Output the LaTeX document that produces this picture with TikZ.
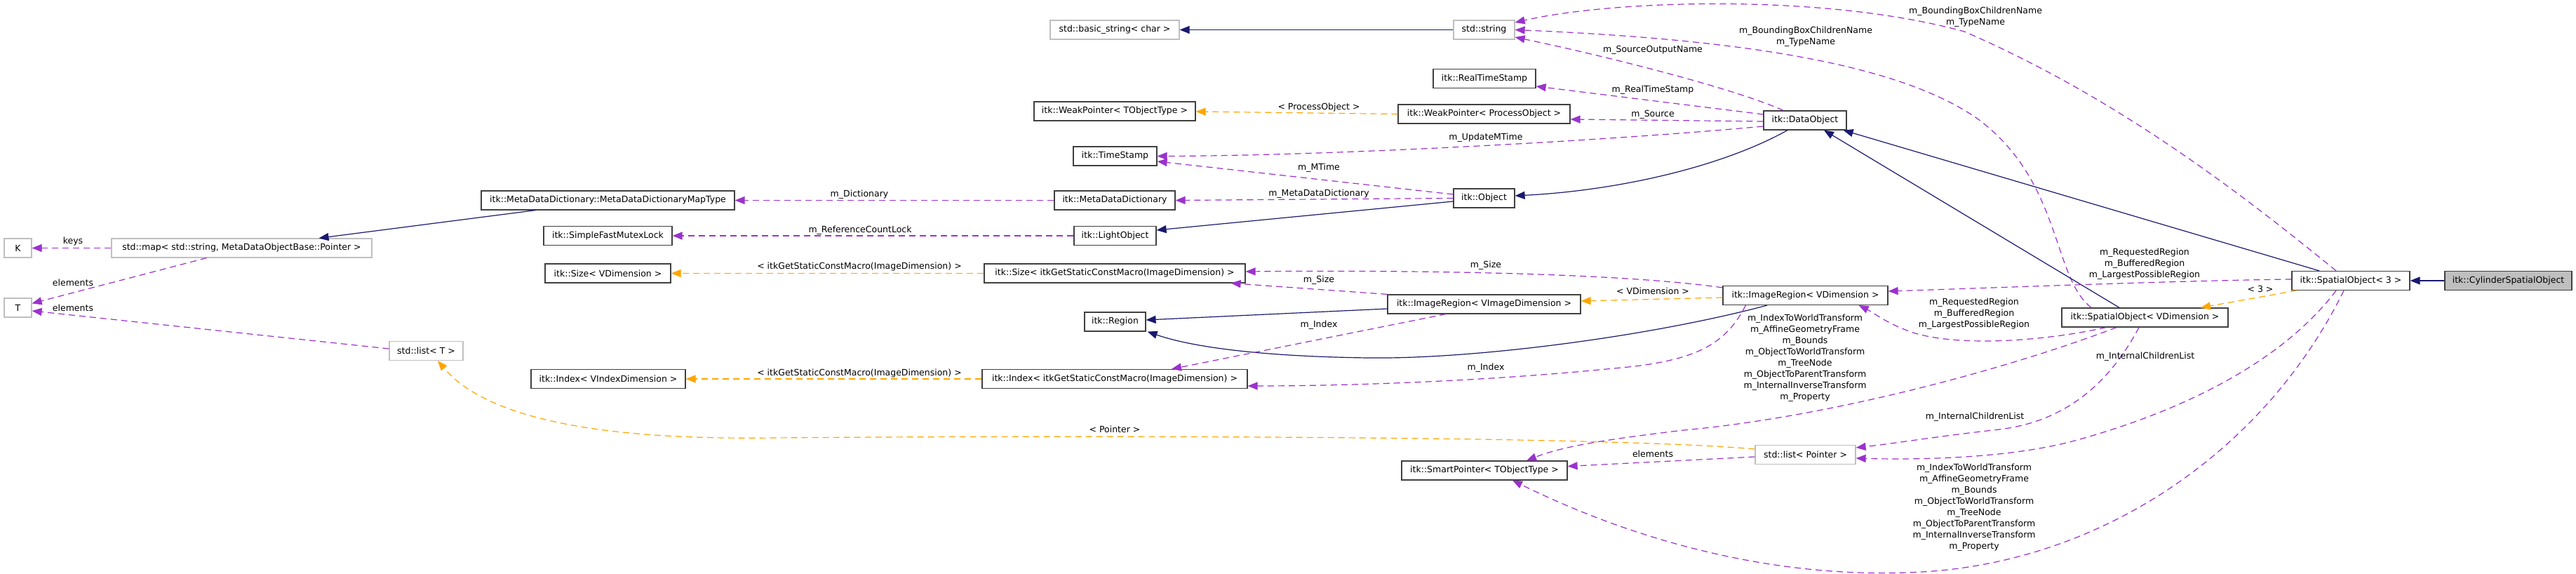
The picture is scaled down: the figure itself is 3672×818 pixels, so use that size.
\documentclass[tikz,border=0pt]{standalone}
\usepackage{fontspec}
\newfontfamily\dx{DejaVu Sans}
\usetikzlibrary{arrows.meta,calc}
\definecolor{navy}{HTML}{191970}
\definecolor{purp}{HTML}{9A32CD}
\definecolor{orng}{HTML}{FFA500}
\newcommand\dxf{\dx\fontsize{12.5pt}{16pt}\selectfont}
\begin{document}
\begin{tikzpicture}[x=1pt,y=-1pt,
  cls/.style={draw=black!75, line width=1.2pt, fill=white, minimum height=27pt, inner xsep=3pt, inner ysep=0pt, font=\dxf},
  ext/.style={cls, draw=black!25},
  lbl/.style={font=\dxf, inner sep=0pt, align=center},
  tip/.style={-{Triangle[length=14pt,width=11pt]}},
  inh/.style={tip, draw=navy, line width=1.2pt},
  use/.style={tip, draw=purp, line width=1.2pt, dash pattern=on 9pt off 6pt},
  tmpl/.style={tip, draw=orng, line width=1.2pt, dash pattern=on 9pt off 6pt}]
\useasboundingbox (0,0) rectangle (3672,818);
\fill[white] (0,0) rectangle (3672,818);

% nodes
\node[ext, minimum width=184pt] (bstr) at (1589,42.5) {std::basic\_string< char >};
\node[ext, minimum width=87pt] (str) at (2115.5,42.5) {std::string};
\node[cls, minimum width=146pt] (rts) at (2116,112) {itk::RealTimeStamp};
\node[cls, minimum width=230pt] (wpt) at (1589,158.5) {itk::WeakPointer< TObjectType >};
\node[cls, minimum width=245pt] (wpp) at (2115.5,162.5) {itk::WeakPointer< ProcessObject >};
\node[cls, minimum width=118pt] (dobj) at (2573,171.5) {itk::DataObject};
\node[cls, minimum width=119pt] (ts) at (1589.5,222.5) {itk::TimeStamp};
\node[cls, minimum width=361pt] (mdt) at (866.5,285.5) {itk::MetaDataDictionary::MetaDataDictionaryMapType};
\node[cls, minimum width=172pt] (mdd) at (1589,285.5) {itk::MetaDataDictionary};
\node[cls, minimum width=87pt] (obj) at (2115.5,282.5) {itk::Object};
\node[cls, minimum width=183pt] (sfm) at (866.5,336) {itk::SimpleFastMutexLock};
\node[cls, minimum width=117pt] (lo) at (1589.5,336) {itk::LightObject};
\node[ext, minimum width=39pt] (nK) at (25.5,353.5) {K};
\node[ext, minimum width=371pt] (map) at (344.5,353.5) {std::map< std::string, MetaDataObjectBase::Pointer >};
\node[cls, minimum width=179pt] (szv) at (866.5,389.5) {itk::Size< VDimension >};
\node[cls, minimum width=372pt] (szi) at (1589,389.5) {itk::Size< itkGetStaticConstMacro(ImageDimension) >};
\node[cls, minimum width=168pt] (so3) at (3351,400) {itk::SpatialObject< 3 >};
\node[cls, fill=black!25, minimum width=181pt] (cyl) at (3575.5,400) {itk::CylinderSpatialObject};
\node[cls, minimum width=235pt] (irv) at (2573.5,421) {itk::ImageRegion< VDimension >};
\node[cls, minimum width=275pt] (iri) at (2115.5,433.5) {itk::ImageRegion< VImageDimension >};
\node[ext, minimum width=39pt] (nT) at (25.5,438.5) {T};
\node[cls, minimum width=237pt] (sov) at (3057.5,452.5) {itk::SpatialObject< VDimension >};
\node[cls, minimum width=87pt] (reg) at (1589.5,458.5) {itk::Region};
\node[ext, minimum width=105pt] (lstT) at (607.5,500) {std::list< T >};
\node[cls, minimum width=220pt] (idxv) at (867,540) {itk::Index< VIndexDimension >};
\node[cls, minimum width=378pt] (idxi) at (1589,540) {itk::Index< itkGetStaticConstMacro(ImageDimension) >};
\node[ext, minimum width=143pt] (lstP) at (2573.5,648) {std::list< Pointer >};
\node[cls, minimum width=236pt] (sp) at (2116,670.5) {itk::SmartPointer< TObjectType >};

% edges
\draw[inh] (str.west) -- (bstr.east);
\draw[use] ($(dobj.north)+(-31,0)$) .. controls (2470,125) and (2280,78) .. ($(str.east)+(0,10.5)$);
\draw[use] ($(sov.north)+(-76.5,0)$) .. controls (2925,395) and (2940,260) .. (2820,170) .. controls (2700,85) and (2450,55) .. (str.east);
\draw[use] ($(so3.north)+(-21,0)$) .. controls (3200,280) and (3020,140) .. (2800,45) .. controls (2600,-10) and (2300,0) .. ($(str.east)+(0,-10.5)$);
\draw[use] ($(dobj.west)+(0,-8.5)$) -- ($(rts.east)+(0,11)$);
\draw[use] ($(dobj.west)+(0,1.5)$) -- ($(wpp.east)+(0,7.5)$);
\draw[tmpl] (wpp.west) -- ($(wpt.east)+(0,0.5)$);
\draw[use] ($(dobj.west)+(0,8.5)$) .. controls (2300,200) and (1900,222) .. (ts.east);
\draw[use] ($(obj.west)+(0,-5.5)$) -- ($(ts.east)+(0,7.5)$);
\draw[inh] ($(dobj.south)+(-25,0)$) .. controls (2450,240) and (2300,272) .. ($(obj.east)+(0,-3.5)$);
\draw[use] (obj.west) -- (mdd.east);
\draw[inh] ($(obj.west)+(0,4.5)$) -- ($(lo.east)+(0,-8)$);
\draw[use] (mdd.west) -- (mdt.east);
\draw[use] (lo.west) -- (sfm.east);
\draw[inh] ($(mdt.south west)+(78,0)$) -- ($(map.north)+(110,0)$);
\draw[use] (map.west) -- (nK.east);
\draw[use] ($(map.south)+(-50,0)$) -- ($(nT.north east)+(0,8)$);
\draw[use] ($(lstT.west)+(0,-3)$) -- ($(nT.east)+(0,4.5)$);
\draw[tmpl] (szi.west) -- (szv.east);
\draw[use] ($(irv.north west)+(0,3)$) .. controls (2300,388) and (2000,385) .. ($(szi.east)+(0,-2.5)$);
\draw[use] (iri.north west) -- ($(szi.south east)+(-21,0)$);
\draw[inh] ($(iri.west)+(0,6.5)$) -- ($(reg.east)+(0,-2.5)$);
\draw[inh] ($(irv.south)+(-54.5,0)$) .. controls (2350,480) and (2100,512) .. (1950,510) .. controls (1800,508) and (1700,495) .. ($(reg.south east)+(2,0)$);
\draw[tmpl] ($(irv.west)+(0,3)$) -- ($(iri.east)+(0,-4.5)$);
\draw[use] ($(iri.south)+(-54.5,0)$) -- ($(idxi.north)+(81,0)$);
\draw[use] ($(irv.south west)+(33,0)$) .. controls (2460,490) and (2420,515) .. (2300,525) .. controls (2100,545) and (1900,550) .. ($(idxi.east)+(0,10)$);
\draw[tmpl] (idxi.west) -- (idxv.east);
\draw[inh] ($(sov.north)+(-36.5,0)$) -- ($(dobj.south)+(27,0)$);
\draw[inh] ($(so3.north)+(-45,0)$) -- ($(dobj.south east)+(-5,0)$);
\draw[tmpl] ($(so3.south west)+(7,0)$) -- ($(sov.north)+(79.5,0)$);
\draw[inh] (cyl.west) -- (so3.east);
\draw[use] ($(so3.west)+(0,-2)$) .. controls (3100,400) and (2850,410) .. ($(irv.east)+(0,-6)$);
\draw[use] ($(sov.south)+(-55.5,0)$) .. controls (2920,485) and (2800,495) .. (2730,475) .. controls (2690,462) and (2670,445) .. ($(irv.south east)+(-42,0)$);
\draw[use] ($(sov.south)+(-40.5,0)$) .. controls (2850,530) and (2600,595) .. (2400,613) .. controls (2300,625) and (2230,635) .. ($(sp.north)+(60,0)$);
\draw[use] ($(so3.south)+(-10,0)$) .. controls (3230,640) and (3000,800) .. (2740,815) .. controls (2550,826) and (2350,780) .. ($(sp.south)+(40,0)$);
\draw[use] ($(sov.south)+(-8.5,0)$) .. controls (3010,540) and (2950,600) .. (2850,612) .. controls (2760,622) and (2700,632) .. ($(lstP.east)+(0,-10)$);
\draw[use] ($(so3.south)+(-21,0)$) .. controls (3250,520) and (3100,590) .. (2950,630) .. controls (2850,655) and (2720,655) .. ($(lstP.east)+(0,5)$);
\draw[use] ($(lstP.west)+(0,3)$) -- ($(sp.east)+(0,-6)$);
\draw[tmpl] ($(lstP.west)+(0,-8)$) .. controls (2300,622) and (1600,620) .. (1100,624) .. controls (800,628) and (680,580) .. ($(lstT.south)+(16.5,0)$);

% labels
\node[lbl] (l1) at (104,344) {keys};
\node[lbl] (l2) at (104,403) {elements};
\node[lbl] (l3) at (104,439) {elements};
\node[lbl] (l4) at (1225,277) {m\_Dictionary};
\node[lbl] (l5) at (1226,328) {m\_ReferenceCountLock};
\node[lbl] (l6) at (1225,380) {< itkGetStaticConstMacro(ImageDimension) >};
\node[lbl] (l7) at (1225,532) {< itkGetStaticConstMacro(ImageDimension) >};
\node[lbl] (l8) at (1880,153) {< ProcessObject >};
\node[lbl] (l9) at (1880,239) {m\_MTime};
\node[lbl] (l10) at (1880,276) {m\_MetaDataDictionary};
\node[lbl] (l11) at (1880,399) {m\_Size};
\node[lbl] (l12) at (1880,463) {m\_Index};
\node[lbl] (l13) at (1589,612) {< Pointer >};
\node[lbl] (l14) at (2356,71) {m\_SourceOutputName};
\node[lbl] (l15) at (2356,128) {m\_RealTimeStamp};
\node[lbl] (l16) at (2356,163) {m\_Source};
\node[lbl] (l17) at (2118,196) {m\_UpdateMTime};
\node[lbl] (l18) at (2118,378) {m\_Size};
\node[lbl] (l19) at (2356,415) {< VDimension >};
\node[lbl] (l20) at (2118,524) {m\_Index};
\node[lbl] (l21) at (2356,647) {elements};
\node[lbl] (l22) at (2574,52) {m\_BoundingBoxChildrenName\\m\_TypeName};
\node[lbl] (l23) at (2816,24) {m\_BoundingBoxChildrenName\\m\_TypeName};
\node[lbl] (l24) at (3057,376) {m\_RequestedRegion\\m\_BufferedRegion\\m\_LargestPossibleRegion};
\node[lbl] (l25) at (2814,447) {m\_RequestedRegion\\m\_BufferedRegion\\m\_LargestPossibleRegion};
\node[lbl] (l26) at (2573,510) {m\_IndexToWorldTransform\\m\_AffineGeometryFrame\\m\_Bounds\\m\_ObjectToWorldTransform\\m\_TreeNode\\m\_ObjectToParentTransform\\m\_InternalInverseTransform\\m\_Property};
\node[lbl] (l27) at (2815,594) {m\_InternalChildrenList};
\node[lbl] (l28) at (3058,508) {m\_InternalChildrenList};
\node[lbl] (l29) at (2814,723) {m\_IndexToWorldTransform\\m\_AffineGeometryFrame\\m\_Bounds\\m\_ObjectToWorldTransform\\m\_TreeNode\\m\_ObjectToParentTransform\\m\_InternalInverseTransform\\m\_Property};
\node[lbl] (l30) at (3222,412) {< 3 >};
\end{tikzpicture}
\end{document}
